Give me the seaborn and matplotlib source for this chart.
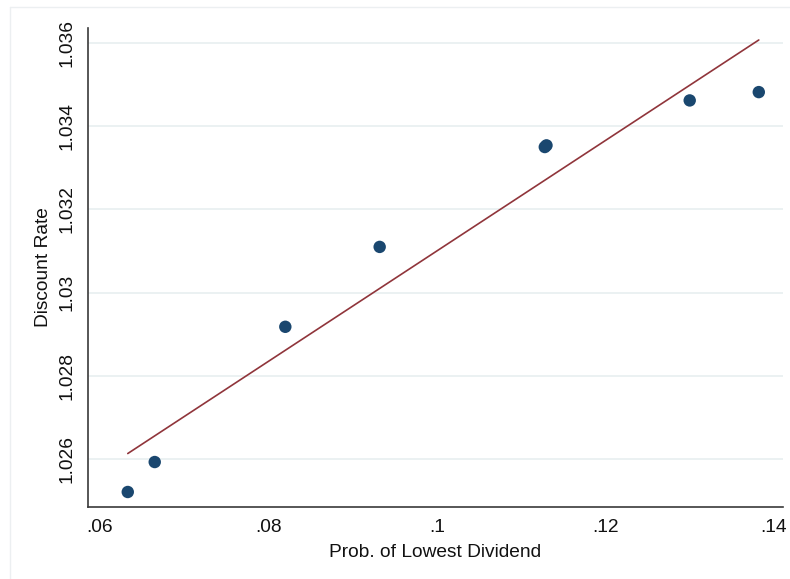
import numpy as np
import pandas as pd
import matplotlib
matplotlib.use("Agg")
import matplotlib.pyplot as plt
from matplotlib.lines import Line2D
import seaborn as sns

# Probability of lowest dividend vs. implied discount rate
prob_lowest = [0.0633, 0.0665, 0.0820, 0.0932, 0.1128, 0.1130, 0.1300, 0.1382]
discount_rate = [1.02521, 1.02593, 1.02918, 1.03110, 1.03350, 1.03354, 1.03462, 1.03482]

x_ticks = [0.06, 0.08, 0.10, 0.12, 0.14]
x_tick_labels = [".06", ".08", ".1", ".12", ".14"]
y_ticks = [1.026, 1.028, 1.030, 1.032, 1.034, 1.036]
y_tick_labels = ["1.026", "1.028", "1.03", "1.032", "1.034", "1.036"]

df = pd.DataFrame({"prob": prob_lowest, "rate": discount_rate})

sns.set_theme(style="white")
plt.rcParams["font.family"] = ["Liberation Sans", "DejaVu Sans"]

navy = "#1a476f"
maroon = "#90353b"
grid_col = "#e9f0f1"
axis_col = "#3a3a3a"

fig = plt.figure(figsize=(7.9, 5.79), dpi=100)
ax = fig.add_axes([0.1114, 0.1244, 0.8797, 0.8272])

# horizontal grid at each y tick
for yt in y_ticks:
    ax.axhline(yt, color=grid_col, lw=1.3, zorder=0)

sns.regplot(data=df, x="prob", y="rate", ci=None, ax=ax,
            scatter_kws=dict(s=80, color=navy, alpha=1.0, edgecolor="none", zorder=3),
            line_kws=dict(color=maroon, lw=1.2, zorder=2))

ax.set_xlim(0.05858, 0.14107)
ax.set_ylim(1.02485, 1.03636)
ax.set_xticks(x_ticks)
ax.set_xticklabels(x_tick_labels)
ax.set_yticks(y_ticks)
ax.set_yticklabels(y_tick_labels, rotation=90, va="center")

ax.tick_params(axis="both", direction="out", length=6, width=1.0, color=axis_col,
               labelsize=13.8, labelcolor="#111111")
ax.tick_params(axis="y", pad=3)
ax.tick_params(axis="x", pad=3)

for side in ["top", "right"]:
    ax.spines[side].set_visible(False)
for side in ["left", "bottom"]:
    ax.spines[side].set_color(axis_col)
    ax.spines[side].set_linewidth(1.2)

ax.set_xlabel("Prob. of Lowest Dividend", fontsize=13.8, color="#111111", labelpad=5.5)
ax.set_ylabel("Discount Rate", fontsize=13.8, color="#111111", labelpad=4.5)

# faint outer graph-region frame
fig.add_artist(Line2D([10 / 790, 10 / 790], [0, 1 - 7 / 579], transform=fig.transFigure,
                      color="#eceff1", lw=1.0))
fig.add_artist(Line2D([10 / 790, 1], [1 - 7 / 579, 1 - 7 / 579], transform=fig.transFigure,
                      color="#eceff1", lw=1.0))

fig.savefig("out.png", dpi=100, facecolor="white")
